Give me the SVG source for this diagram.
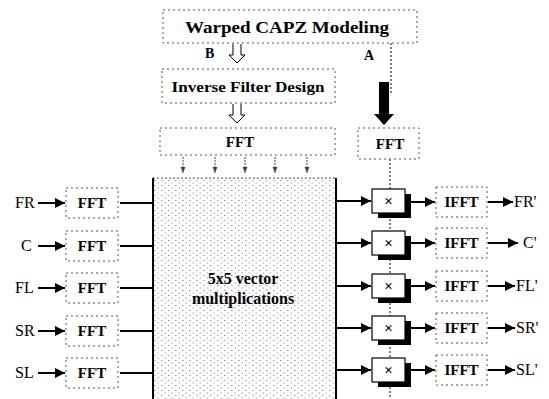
<svg xmlns="http://www.w3.org/2000/svg" width="549" height="399" viewBox="0 0 549 399">
<style>
.box{fill:none;stroke:#555;stroke-width:1;stroke-dasharray:2 3}
.lbl{font-family:"Liberation Serif",serif;font-weight:bold;fill:#000}
.io{font-family:"Liberation Serif",serif;font-size:16px;fill:#000}
.ln{stroke:#000;stroke-width:2;fill:none}
.dl{stroke:#000;stroke-width:1;stroke-dasharray:2 2;fill:none}
.mul{fill:#fff;stroke:#000;stroke-width:1.2}
.sh{fill:#000}
</style>
<defs>
<marker id="ah" viewBox="0 0 10 10" refX="10" refY="5" markerWidth="5" markerHeight="5" orient="auto" markerUnits="strokeWidth"><path d="M0,0 L10,5 L0,10 z" fill="#000"/></marker>
<marker id="sa" viewBox="0 0 10 10" refX="10" refY="5" markerWidth="6" markerHeight="6" orient="auto" markerUnits="userSpaceOnUse"><path d="M0,1 L10,5 L0,9 z" fill="#444"/></marker>
<pattern id="stip" width="7" height="5" patternUnits="userSpaceOnUse"><rect width="7" height="5" fill="#fff"/><rect x="0" y="0" width="1.5" height="1" fill="#999"/><rect x="3.5" y="2.5" width="1.5" height="1" fill="#aaa"/></pattern>
</defs>

<g id="connectors">
<text class="lbl" x="205" y="58" font-size="14">B</text>
<path d="M233,44 L233,55 L229,55 L237,63 L245,55 L241,55 L241,44" fill="#fff" stroke="#000" stroke-width="1"/>
<text class="lbl" x="364" y="60" font-size="14">A</text>
<line class="dl" x1="391" y1="43" x2="391" y2="95"/>
<path d="M379,82 L389,82 L389,114 L394,114 L384,125 L374,114 L379,114 z" fill="#000"/>
<path d="M233,104 L233,115 L229,115 L237,123 L245,115 L241,115 L241,104" fill="#fff" stroke="#000" stroke-width="1"/>
<line x1="183" y1="157" x2="183" y2="173" stroke="#444" stroke-dasharray="2 1" marker-end="url(#sa)"/>
<line x1="215" y1="157" x2="215" y2="173" stroke="#444" stroke-dasharray="2 1" marker-end="url(#sa)"/>
<line x1="245" y1="157" x2="245" y2="173" stroke="#444" stroke-dasharray="2 1" marker-end="url(#sa)"/>
<line x1="275" y1="157" x2="275" y2="173" stroke="#444" stroke-dasharray="2 1" marker-end="url(#sa)"/>
<line x1="307" y1="157" x2="307" y2="173" stroke="#444" stroke-dasharray="2 1" marker-end="url(#sa)"/>
<line class="dl" x1="390" y1="159" x2="390" y2="399"/>
<line class="ln" x1="38" y1="203" x2="65" y2="203" marker-end="url(#ah)"/>
<line class="ln" x1="38" y1="246" x2="65" y2="246" marker-end="url(#ah)"/>
<line class="ln" x1="38" y1="288" x2="65" y2="288" marker-end="url(#ah)"/>
<line class="ln" x1="38" y1="331" x2="65" y2="331" marker-end="url(#ah)"/>
<line class="ln" x1="38" y1="373" x2="65" y2="373" marker-end="url(#ah)"/>
<line class="ln" x1="120" y1="203" x2="153" y2="203"/>
<line class="ln" x1="120" y1="246" x2="153" y2="246"/>
<line class="ln" x1="120" y1="288" x2="153" y2="288"/>
<line class="ln" x1="120" y1="331" x2="153" y2="331"/>
<line class="ln" x1="120" y1="373" x2="153" y2="373"/>
<line class="ln" x1="336" y1="201" x2="371" y2="201" marker-end="url(#ah)"/>
<line class="ln" x1="336" y1="243" x2="371" y2="243" marker-end="url(#ah)"/>
<line class="ln" x1="336" y1="286" x2="371" y2="286" marker-end="url(#ah)"/>
<line class="ln" x1="336" y1="328" x2="371" y2="328" marker-end="url(#ah)"/>
<line class="ln" x1="336" y1="370" x2="371" y2="370" marker-end="url(#ah)"/>
<line class="ln" x1="411" y1="202" x2="435" y2="202" marker-end="url(#ah)"/>
<line class="ln" x1="411" y1="243" x2="435" y2="243" marker-end="url(#ah)"/>
<line class="ln" x1="411" y1="286" x2="435" y2="286" marker-end="url(#ah)"/>
<line class="ln" x1="411" y1="328" x2="435" y2="328" marker-end="url(#ah)"/>
<line class="ln" x1="411" y1="370" x2="435" y2="370" marker-end="url(#ah)"/>
<line class="ln" x1="488" y1="202" x2="513" y2="202" marker-end="url(#ah)"/>
<line class="ln" x1="488" y1="243" x2="518" y2="243" marker-end="url(#ah)"/>
<line class="ln" x1="488" y1="286" x2="515" y2="286" marker-end="url(#ah)"/>
<line class="ln" x1="488" y1="328" x2="515" y2="328" marker-end="url(#ah)"/>
<line class="ln" x1="488" y1="370" x2="515" y2="370" marker-end="url(#ah)"/>
</g>

<g id="capz">
<rect class="box" x="163" y="10" width="254" height="33"/>
<text class="lbl" x="287" y="33" font-size="16" text-anchor="middle" textLength="204" lengthAdjust="spacingAndGlyphs">Warped CAPZ Modeling</text>
</g>
<g id="inverse">
<rect class="box" x="162" y="69" width="173" height="34"/>
<text class="lbl" x="248" y="92" font-size="15" text-anchor="middle" textLength="153" lengthAdjust="spacingAndGlyphs">Inverse Filter Design</text>
</g>
<g id="fft-top">
<rect class="box" x="160" y="128" width="175" height="27"/>
<text class="lbl" x="240" y="147" font-size="15" text-anchor="middle">FFT</text>
</g>
<g id="fft-a">
<rect class="box" x="358" y="128" width="61" height="31"/>
<text class="lbl" x="390" y="149" font-size="15" text-anchor="middle">FFT</text>
</g>
<g id="matrix">
<rect x="153" y="178" width="183" height="225" fill="url(#stip)" stroke="none"/>
<line x1="153" y1="178" x2="336" y2="178" stroke="#555" stroke-dasharray="2 2"/>
<line x1="153" y1="178" x2="153" y2="399" stroke="#000" stroke-width="2"/>
<line x1="336" y1="178" x2="336" y2="399" stroke="#000" stroke-width="2"/>
<text class="lbl" x="243" y="284" font-size="16" text-anchor="middle">5x5 vector</text>
<text class="lbl" x="243" y="304" font-size="16" text-anchor="middle">multiplications</text>
</g>

<g id="in-fr"><text class="io" x="15" y="208">FR</text><rect class="box" x="66" y="188" width="52" height="30"/><text class="lbl" x="92" y="208" font-size="15" text-anchor="middle">FFT</text></g>
<g id="in-c"><text class="io" x="21" y="251">C</text><rect class="box" x="66" y="231" width="52" height="30"/><text class="lbl" x="92" y="251" font-size="15" text-anchor="middle">FFT</text></g>
<g id="in-fl"><text class="io" x="15" y="293">FL</text><rect class="box" x="66" y="273" width="52" height="30"/><text class="lbl" x="92" y="293" font-size="15" text-anchor="middle">FFT</text></g>
<g id="in-sr"><text class="io" x="15" y="336">SR</text><rect class="box" x="66" y="316" width="52" height="30"/><text class="lbl" x="92" y="336" font-size="15" text-anchor="middle">FFT</text></g>
<g id="in-sl"><text class="io" x="15" y="378">SL</text><rect class="box" x="66" y="358" width="52" height="30"/><text class="lbl" x="92" y="378" font-size="15" text-anchor="middle">FFT</text></g>

<g id="mul1"><rect class="sh" x="378" y="194" width="33" height="24"/><rect class="mul" x="372" y="189" width="33" height="24"/><text class="lbl" x="388.5" y="206" font-size="15" text-anchor="middle">×</text></g>
<g id="mul2"><rect class="sh" x="378" y="236" width="33" height="24"/><rect class="mul" x="372" y="231" width="33" height="24"/><text class="lbl" x="388.5" y="248" font-size="15" text-anchor="middle">×</text></g>
<g id="mul3"><rect class="sh" x="378" y="279" width="33" height="24"/><rect class="mul" x="372" y="274" width="33" height="24"/><text class="lbl" x="388.5" y="291" font-size="15" text-anchor="middle">×</text></g>
<g id="mul4"><rect class="sh" x="378" y="321" width="33" height="24"/><rect class="mul" x="372" y="316" width="33" height="24"/><text class="lbl" x="388.5" y="333" font-size="15" text-anchor="middle">×</text></g>
<g id="mul5"><rect class="sh" x="378" y="363" width="33" height="24"/><rect class="mul" x="372" y="358" width="33" height="24"/><text class="lbl" x="388.5" y="375" font-size="15" text-anchor="middle">×</text></g>

<g id="ifft1"><rect class="box" x="436" y="187" width="51" height="30"/><text class="lbl" x="461.5" y="207" font-size="15" text-anchor="middle">IFFT</text><text class="io" x="514" y="207">FR'</text></g>
<g id="ifft2"><rect class="box" x="436" y="228" width="51" height="30"/><text class="lbl" x="461.5" y="248" font-size="15" text-anchor="middle">IFFT</text><text class="io" x="523" y="248">C'</text></g>
<g id="ifft3"><rect class="box" x="436" y="271" width="51" height="30"/><text class="lbl" x="461.5" y="291" font-size="15" text-anchor="middle">IFFT</text><text class="io" x="516" y="291">FL'</text></g>
<g id="ifft4"><rect class="box" x="436" y="313" width="51" height="30"/><text class="lbl" x="461.5" y="333" font-size="15" text-anchor="middle">IFFT</text><text class="io" x="516" y="333">SR'</text></g>
<g id="ifft5"><rect class="box" x="436" y="355" width="51" height="30"/><text class="lbl" x="461.5" y="375" font-size="15" text-anchor="middle">IFFT</text><text class="io" x="516" y="375">SL'</text></g>
</svg>
